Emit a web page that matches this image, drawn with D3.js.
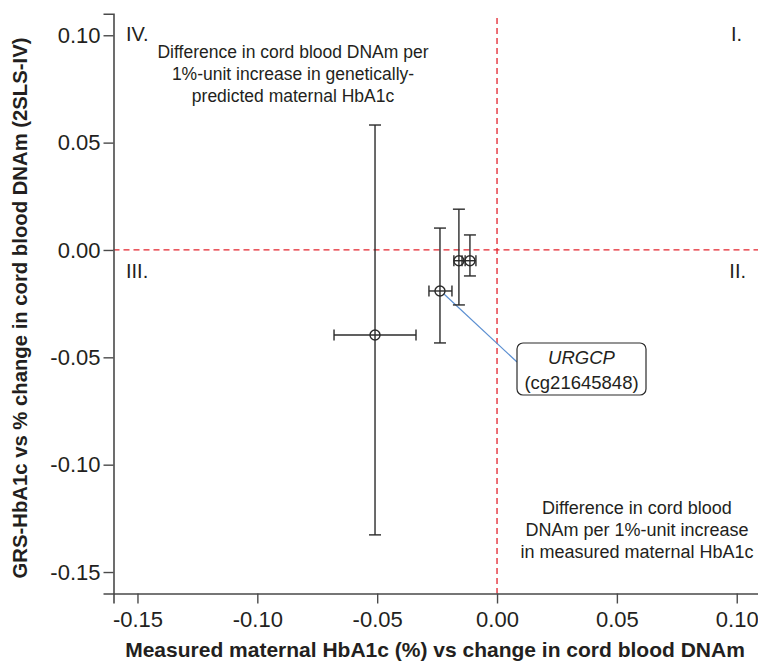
<!DOCTYPE html>
<html><head><meta charset="utf-8">
<script src="https://cdn.jsdelivr.net/npm/d3@7"></script>
<style>body{margin:0;background:#fff}svg{display:block;font-family:"Liberation Sans",Arial,sans-serif}</style>
</head><body><svg id="c" width="758" height="662"></svg>
<script>
const labels = ["A","URGCP","C","D"];
const xEst = [-0.0509, -0.0238, -0.0159, -0.0113];
const xLo  = [-0.0680, -0.0284, -0.0180, -0.0146];
const xHi  = [-0.0338, -0.0188, -0.0133, -0.0088];
const yEst = [-0.0396, -0.0191, -0.0050, -0.0050];
const yLo  = [-0.1327, -0.0433, -0.0256, -0.0121];
const yHi  = [ 0.0582,  0.0102,  0.0190,  0.0070];
const xTicks = [-0.15, -0.10, -0.05, 0.00, 0.05, 0.10];
const yTicks = [0.10, 0.05, 0.00, -0.05, -0.10, -0.15];

const svg = d3.select("#c");
const x = d3.scaleLinear().domain([-0.16, 0.11]).range([113.5, 760.7]);
const y = d3.scaleLinear().domain([-0.16, 0.11]).range([593.5, 13.8]);
const axCol = "#4a4a4a", txt = "#231f20", red = "#e3232d";
const FF = "Liberation Sans, Arial, sans-serif";

// reference lines
svg.append("line").attr("x1", x(-0.16)).attr("x2", 758).attr("y1", y(0)).attr("y2", y(0))
  .attr("stroke", red).attr("stroke-width", 1.3).attr("stroke-dasharray", "6,4");
svg.append("line").attr("x1", x(0)).attr("x2", x(0)).attr("y1", y(0.108)).attr("y2", y(-0.16))
  .attr("stroke", red).attr("stroke-width", 1.3).attr("stroke-dasharray", "6,4");

// axes
const fmt = d => d3.format(".2f")(d).replace("−", "-");
const xAxis = svg.append("g").attr("transform", `translate(0,${y(-0.16)})`)
  .call(d3.axisBottom(x).tickValues(xTicks).tickFormat(fmt).tickSize(10).tickPadding(8));
const yAxis = svg.append("g").attr("transform", `translate(${x(-0.16)},0)`)
  .call(d3.axisLeft(y).tickValues(yTicks).tickFormat(fmt).tickSize(10).tickPadding(3));
[xAxis, yAxis].forEach(a => {
  a.attr("font-family", FF).attr("font-size", 22);
  a.select(".domain").attr("stroke", axCol).attr("stroke-width", 1.6);
  a.selectAll(".tick line").attr("stroke", axCol).attr("stroke-width", 1.4);
  a.selectAll(".tick text").attr("fill", txt).attr("font-size", 22);
});

// annotation connector
svg.append("line").attr("x1", x(xEst[1]) + 4).attr("y1", y(yEst[1]) + 3)
  .attr("x2", 517).attr("y2", 362).attr("stroke", "#5b8fd1").attr("stroke-width", 1.2);

// error bars
const g = svg.append("g").attr("stroke", "#2b2b2b").attr("stroke-width", 1.4).attr("fill", "none");
labels.forEach((l, i) => {
  const cx = x(xEst[i]), cy = y(yEst[i]);
  g.append("line").attr("x1", cx).attr("x2", cx).attr("y1", y(yLo[i])).attr("y2", y(yHi[i]));
  g.append("line").attr("x1", cx - 6).attr("x2", cx + 6).attr("y1", y(yLo[i])).attr("y2", y(yLo[i]));
  g.append("line").attr("x1", cx - 6).attr("x2", cx + 6).attr("y1", y(yHi[i])).attr("y2", y(yHi[i]));
  g.append("line").attr("x1", x(xLo[i])).attr("x2", x(xHi[i])).attr("y1", cy).attr("y2", cy);
  g.append("line").attr("x1", x(xLo[i])).attr("x2", x(xLo[i])).attr("y1", cy - 5.5).attr("y2", cy + 5.5);
  g.append("line").attr("x1", x(xHi[i])).attr("x2", x(xHi[i])).attr("y1", cy - 5.5).attr("y2", cy + 5.5);
  g.append("circle").attr("cx", cx).attr("cy", cy).attr("r", 5);
});

// annotation box
svg.append("rect").attr("x", 517).attr("y", 343).attr("width", 129).attr("height", 52)
  .attr("rx", 6).attr("fill", "#fff").attr("stroke", "#2b2b2b").attr("stroke-width", 1.2);
svg.append("text").attr("x", 581.5).attr("y", 364).attr("text-anchor", "middle")
  .attr("font-size", 18.5).attr("font-style", "italic").attr("fill", txt).text("URGCP");
svg.append("text").attr("x", 581.5).attr("y", 389).attr("text-anchor", "middle")
  .attr("font-size", 18.5).attr("fill", txt).text("(cg21645848)");

// quadrant labels
const q = (t, xx, yy, anchor) => svg.append("text").attr("x", xx).attr("y", yy)
  .attr("text-anchor", anchor).attr("font-size", 20).attr("fill", txt).text(t);
q("IV.", 126, 41, "start");
q("I.", 742, 41, "end");
q("III.", 126, 278, "start");
q("II.", 746, 278, "end");

const block = (lines, cx, y0, fs) => lines.forEach((t, i) => svg.append("text")
  .attr("x", cx).attr("y", y0 + i * 22).attr("text-anchor", "middle")
  .attr("font-size", fs).attr("fill", txt).text(t));
block(["Difference in cord blood DNAm per", "1%-unit increase in genetically-", "predicted maternal HbA1c"], 293, 58, 17.5);
block(["Difference in cord blood", "DNAm per 1%-unit increase", "in measured maternal HbA1c"], 637, 514, 18);

// axis titles
svg.append("text").attr("x", 435).attr("y", 657).attr("text-anchor", "middle")
  .attr("font-size", 21).attr("font-weight", "bold").attr("fill", txt)
  .text("Measured maternal HbA1c (%) vs change in cord blood DNAm");
svg.append("text").attr("transform", "translate(27,308) rotate(-90)").attr("text-anchor", "middle")
  .attr("font-size", 20.3).attr("font-weight", "bold").attr("fill", txt)
  .text("GRS-HbA1c vs % change in cord blood DNAm (2SLS-IV)");
</script></body></html>
